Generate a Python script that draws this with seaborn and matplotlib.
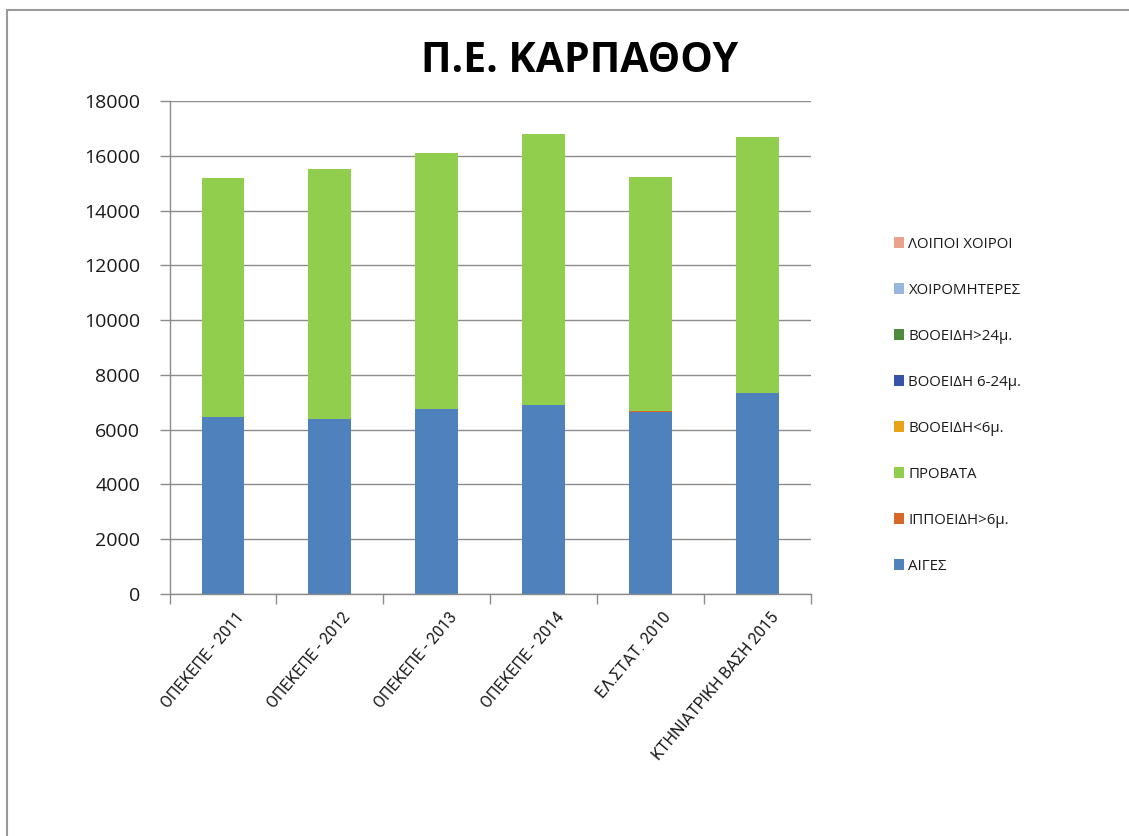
import matplotlib
matplotlib.use("Agg")
import matplotlib.pyplot as plt
import matplotlib.transforms as mtransforms
from matplotlib.lines import Line2D
from matplotlib.patches import Patch
import numpy as np
import pandas as pd
import seaborn as sns

# Data: livestock counts per source / year
categories = ["ΟΠΕΚΕΠΕ - 2011", "ΟΠΕΚΕΠΕ - 2012", "ΟΠΕΚΕΠΕ - 2013",
              "ΟΠΕΚΕΠΕ - 2014", "ΕΛ.ΣΤΑΤ. 2010", "ΚΤΗΝΙΑΤΡΙΚΗ ΒΑΣΗ 2015"]
aiges = [6450, 6400, 6750, 6900, 6650, 7350]
ippoeidi = [0, 0, 0, 0, 30, 0]
provata = [8750, 9100, 9350, 9900, 8550, 9350]
booeidi_lt6 = [0, 0, 0, 0, 0, 0]
booeidi_6_24 = [0, 0, 0, 0, 0, 0]
booeidi_gt24 = [0, 0, 0, 0, 0, 0]
xoiromiteres = [0, 0, 0, 0, 0, 0]
loipoi_xoiroi = [0, 0, 0, 0, 0, 0]

series_names = ["ΑΙΓΕΣ", "ΙΠΠΟΕΙΔΗ>6μ.", "ΠΡΟΒΑΤΑ", "ΒΟΟΕΙΔΗ<6μ.",
                "ΒΟΟΕΙΔΗ 6-24μ.", "ΒΟΟΕΙΔΗ>24μ.", "ΧΟΙΡΟΜΗΤΕΡΕΣ", "ΛΟΙΠΟΙ ΧΟΙΡΟΙ"]
series_values = [aiges, ippoeidi, provata, booeidi_lt6,
                 booeidi_6_24, booeidi_gt24, xoiromiteres, loipoi_xoiroi]
series_colors = ["#4F81BD", "#D8672A", "#92CE4E", "#E8A317",
                 "#3553A8", "#4E8A3E", "#98B6DE", "#EBA28C"]

sns.set_theme(style="white")
plt.rcParams["font.family"] = ["Open Sans", "DejaVu Sans"]

W, H = 1129, 836
fig = plt.figure(figsize=(W / 100, H / 100), dpi=100)
fig.patch.set_facecolor("white")

# plot area in pixel coordinates
left, right, top, bottom = 169.5, 811, 101, 594
ax = fig.add_axes([left / W, 1 - bottom / H, (right - left) / W, (bottom - top) / H])

# stacked bars: draw cumulative totals from the top layer down
cum = np.cumsum(np.array(series_values), axis=0)
for i in range(len(series_names) - 1, -1, -1):
    df = pd.DataFrame({"cat": categories, "val": cum[i]})
    sns.barplot(data=df, x="cat", y="val", order=categories, color=series_colors[i],
                width=0.40, saturation=1, ax=ax, zorder=2, edgecolor="none", linewidth=0)

ax.set_xlim(-0.5, len(categories) - 0.5)
ax.set_ylim(0, 18000)
ax.set_yticks(np.arange(0, 18001, 2000))
ax.set_xlabel("")
ax.set_ylabel("")

grid_color = "#8C8C8C"
text_color = "#1a1a1a"
ax.yaxis.grid(True, color=grid_color, linewidth=1.0, zorder=0)
ax.set_axisbelow(True)
for s in ["top", "right"]:
    ax.spines[s].set_visible(False)
for s in ["left", "bottom"]:
    ax.spines[s].set_color(grid_color)
    ax.spines[s].set_linewidth(1.0)

ax.tick_params(axis="y", which="major", left=True, length=7, width=1, color=grid_color,
               labelsize=14, labelcolor=text_color, pad=14)
# category ticks sit between bars; labels sit on bar centres
ax.set_xticks(np.arange(len(categories)))
ax.set_xticklabels(categories, fontsize=11.5,
                   fontfamily=["Liberation Sans Narrow", "Roboto", "DejaVu Sans"])
ax.tick_params(axis="x", which="major", bottom=False, labelcolor=text_color, pad=2)
ax.set_xticks(np.arange(-0.5, len(categories), 1), minor=True)
ax.tick_params(axis="x", which="minor", bottom=True, length=7, width=1, color=grid_color)

offset = mtransforms.ScaledTranslation(18 / 100, -9 / 100, fig.dpi_scale_trans)
for lbl in ax.get_xticklabels():
    lbl.set_rotation(50)
    lbl.set_ha("right")
    lbl.set_va("center")
    lbl.set_rotation_mode("anchor")
    lbl.set_transform(lbl.get_transform() + offset)

# title
fig.text(580 / W, 1 - 62 / H, "Π.Ε. ΚΑΡΠΑΘΟΥ", ha="center", va="center",
         fontsize=29.5, fontweight="bold", color="black")

# legend (last series on top)
handles = [Patch(facecolor=series_colors[i], edgecolor="none", label=series_names[i])
           for i in range(len(series_names) - 1, -1, -1)]
fig.legend(handles=handles, loc="upper left", bbox_to_anchor=(880 / W, 1 - 223 / H),
           frameon=False, fontsize=10.8, handlelength=0.7, handleheight=0.7,
           handletextpad=0.3, labelspacing=2.07, labelcolor=text_color)

# chart frame (top and left edges)
fig.add_artist(Line2D([7 / W, 1.0], [1 - 10 / H, 1 - 10 / H], transform=fig.transFigure,
                      color="#9A9A9A", linewidth=1.5))
fig.add_artist(Line2D([7 / W, 7 / W], [0.0, 1 - 10 / H], transform=fig.transFigure,
                      color="#9A9A9A", linewidth=1.5))

fig.savefig("out.png", dpi=100, facecolor="white")
